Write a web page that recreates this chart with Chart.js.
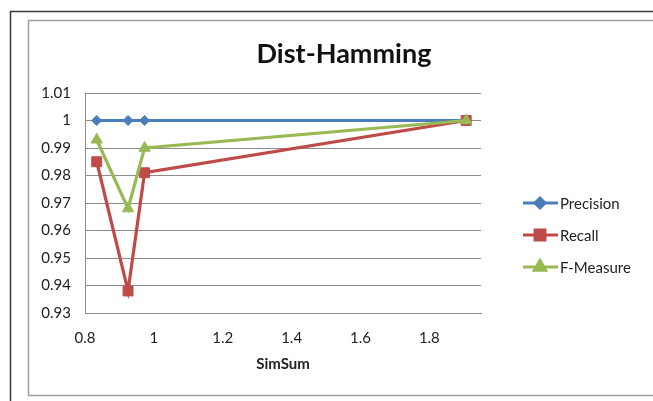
<!DOCTYPE html>
<html>
<head>
<meta charset="utf-8">
<script src="https://cdn.jsdelivr.net/npm/chart.js@4/dist/chart.umd.min.js"></script>
<style>
  html, body { margin: 0; padding: 0; background: #fff; }
  #wrap { width: 653px; height: 401px; position: relative; }
</style>
</head>
<body>
<div id="wrap"><canvas id="graph--hamming"></canvas></div>
<script>
// SimSum values along the x-axis
const simSum = [0.834, 0.925, 0.973, 1.907]
// the three measures
const precision = [1, 1, 1, 1]
const recall = [0.985, 0.938, 0.981, 1]
const fMeasure = [0.993, 0.968, 0.990, 1]
const seriesNames = ['Precision', 'Recall', 'F-Measure']

const colors = ['#4a7ebb', '#be4b48', '#98b954']
const shapes = ['rectRot', 'rect', 'triangle']
const radii = [5, 7, 6.5]
const font = 'Lato, "Open Sans", sans-serif'

const points = (ys) => simSum.map((x, i) => ({ x: x, y: ys[i] }))
const fmt = (v) => String(parseFloat(Number(v).toFixed(3)))

// borders, title and legend are drawn by hand
const frame = {
  id: 'frame',
  beforeDraw(chart) {
    const ctx = chart.ctx
    ctx.save()
    ctx.fillStyle = '#fff'
    ctx.fillRect(0, 0, chart.width, chart.height)
    ctx.strokeStyle = '#3a3a3a'
    ctx.lineWidth = 1.5
    ctx.beginPath()
    ctx.moveTo(10.5, 401); ctx.lineTo(10.5, 11.5); ctx.lineTo(653, 11.5)
    ctx.stroke()
    ctx.strokeStyle = '#a0a0a0'
    ctx.lineWidth = 1.5
    ctx.beginPath()
    ctx.moveTo(653, 20.5); ctx.lineTo(28.5, 20.5); ctx.lineTo(28.5, 395.5); ctx.lineTo(653, 395.5)
    ctx.stroke()
    ctx.restore()
  },
  afterDraw(chart) {
    const ctx = chart.ctx
    ctx.save()
    ctx.fillStyle = '#111'
    ctx.font = 'bold 27px ' + font
    ctx.textAlign = 'center'
    ctx.textBaseline = 'middle'
    ctx.fillText('Dist-Hamming', 344, 54)
    // legend
    ctx.font = '15px ' + font
    ctx.textAlign = 'left'
    chart.data.datasets.forEach((ds, i) => {
      const y = 203 + i * 32
      ctx.strokeStyle = ds.borderColor
      ctx.lineWidth = 3
      ctx.beginPath()
      ctx.moveTo(523, y); ctx.lineTo(558, y)
      ctx.stroke()
      Chart.helpers.drawPoint(ctx, {
        pointStyle: ds.pointStyle, radius: ds.pointRadius, rotation: 0, borderWidth: 1
      }, 540, y)
      ctx.fillStyle = ds.borderColor
      ctx.fill()
      ctx.fillStyle = '#222'
      ctx.fillText(ds.label, 560, y + 1)
    })
    ctx.restore()
  }
}

const chartEl = document.querySelector('#graph--hamming')
const hammingChart = new Chart(chartEl, {
  type: 'line',
  data: {
    datasets: [precision, recall, fMeasure].map((ys, i) => ({
      label: seriesNames[i],
      data: points(ys),
      borderColor: colors[i],
      backgroundColor: colors[i],
      pointBackgroundColor: colors[i],
      pointBorderColor: colors[i],
      pointStyle: shapes[i],
      pointRadius: radii[i],
      pointBorderWidth: 1,
      borderWidth: 3.2,
      fill: false,
      tension: 0,
      order: 3 - i
    }))
  },
  options: {
    responsive: true,
    maintainAspectRatio: false,
    animation: false,
    layout: { padding: { top: 93, right: 172, left: 0, bottom: 0 } },
    plugins: {
      legend: { display: false },
      title: { display: false },
      tooltip: { enabled: false }
    },
    scales: {
      x: {
        type: 'linear',
        min: 0.8,
        max: 1.95,
        afterBuildTicks: (s) => {
          s.ticks = [0.8, 1, 1.2, 1.4, 1.6, 1.8].map(v => ({ value: v }))
        },
        afterFit: (s) => { s.height = 88 },
        grid: { display: false, drawTicks: false },
        border: { display: true, color: '#8c8c8c', width: 1 },
        ticks: {
          padding: 16,
          color: '#222',
          font: { family: font, size: 15 },
          callback: fmt,
          maxRotation: 0
        },
        title: {
          display: true,
          text: 'SimSum',
          color: '#222',
          font: { family: font, size: 15, weight: 'bold' },
          padding: { top: 8, bottom: 28 }
        }
      },
      y: {
        min: 0.93,
        max: 1.01,
        afterFit: (s) => { s.width = 85 },
        grid: { color: '#8c8c8c', lineWidth: 1, drawTicks: false },
        border: { display: true, color: '#8c8c8c', width: 1 },
        ticks: {
          stepSize: 0.01,
          padding: 14,
          color: '#222',
          font: { family: font, size: 15 },
          callback: fmt
        }
      }
    }
  },
  plugins: [frame]
})
</script>
</body>
</html>
